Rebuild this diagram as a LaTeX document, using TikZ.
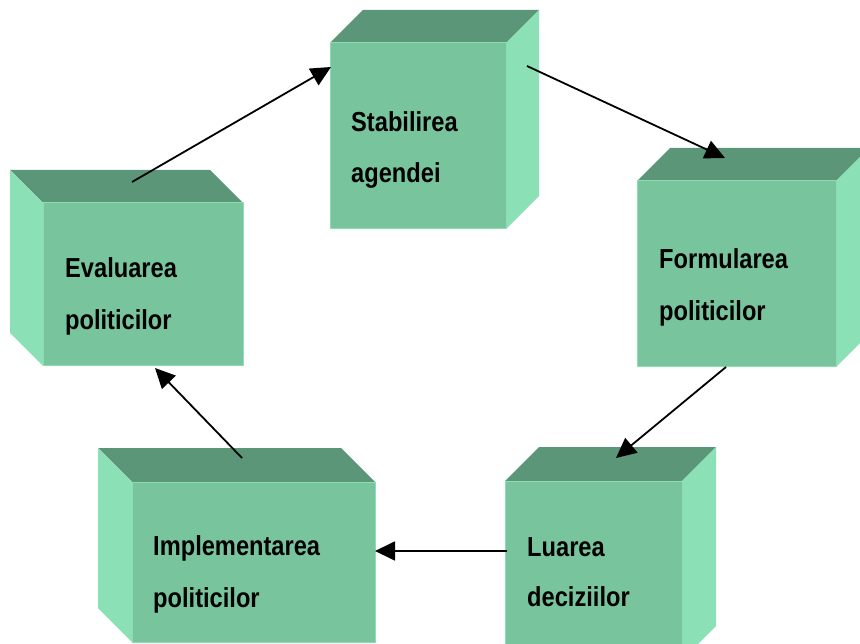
\documentclass[tikz,border=0pt]{standalone}
\usepackage{fontspec}
\newfontfamily\lblfont{Liberation Sans}[FakeStretch=0.86]
\usetikzlibrary{arrows.meta}
\definecolor{topc}{RGB}{91,150,121}
\definecolor{frontc}{RGB}{120,197,157}
\definecolor{sidec}{RGB}{139,225,181}
\definecolor{edgec}{RGB}{140,222,178}
\tikzset{
  lbl/.style={anchor=base west, inner sep=0pt, font=\lblfont\bfseries\fontsize{27.5}{30}\selectfont, text=black},
  face/.style={fill=frontc, draw=edgec, line width=1pt, inner sep=0pt, outer sep=0pt, anchor=north west},
  arr/.style={draw=black, line width=1.8pt, -{Triangle[length=20pt,width=19pt]}}
}
% right-depth cube: x1,y1,x2,y2,name,depth
\newcommand\mycubeR[6]{%
  \fill[topc] (#1,#2) -- (#1+#6,#2-#6) -- (#3+#6,#2-#6) -- (#3,#2) -- cycle;
  \fill[sidec] (#3,#2) -- (#3+#6,#2-#6) -- (#3+#6,#4-#6) -- (#3,#4) -- cycle;
  \node[face, minimum width={(#3-#1)*1pt}, minimum height={(#4-#2)*1pt}] (#5) at (#1,#2) {};
}
% left-depth cube
\newcommand\mycubeL[6]{%
  \fill[topc] (#1,#2) -- (#1-#6,#2-#6) -- (#3-#6,#2-#6) -- (#3,#2) -- cycle;
  \fill[sidec] (#1,#2) -- (#1-#6,#2-#6) -- (#1-#6,#4-#6) -- (#1,#4) -- cycle;
  \node[face, minimum width={(#3-#1)*1pt}, minimum height={(#4-#2)*1pt}] (#5) at (#1,#2) {};
}
\begin{document}
\begin{tikzpicture}[x=1pt,y=-1pt]
\useasboundingbox (0,0) rectangle (860,644);
\clip (0,0) rectangle (860,644);
\fill[white] (0,0) rectangle (860,644);

\mycubeR{330}{43}{506}{229}{stab}{33}
\mycubeR{637}{181}{836}{367}{form}{33}
\mycubeR{505}{481}{682}{660}{luar}{34}
\mycubeL{132}{482}{375}{642}{impl}{34}
\mycubeL{43}{203}{243}{366}{eval}{33}

\node[lbl] (stab1) at (351,132) {Stabilirea};
\node[lbl] (stab2) at (351,183) {agendei};
\node[lbl] (form1) at (659,269) {Formularea};
\node[lbl] (form2) at (659,321) {politicilor};
\node[lbl] (luar1) at (527,556) {Luarea};
\node[lbl] (luar2) at (527,606) {deciziilor};
\node[lbl] (impl1) at (153,555) {Implementarea};
\node[lbl] (impl2) at (153,607) {politicilor};
\node[lbl] (eval1) at (65,278) {Evaluarea};
\node[lbl] (eval2) at (65,330) {politicilor};

\coordinate (a1s) at (132,182);
\coordinate (a1e) at (331,67);
\coordinate (a2s) at (527,66);
\coordinate (a2e) at (725,158);
\coordinate (a3s) at (726,367);
\coordinate (a3e) at (616,458);
\coordinate (a4s) at (507,551);
\coordinate (a4e) at (375,551);
\coordinate (a5s) at (242,458);
\coordinate (a5e) at (155,368);

\draw[arr] (a1s) -- (a1e);
\draw[arr] (a2s) -- (a2e);
\draw[arr] (a3s) -- (a3e);
\draw[arr] (a4s) -- (a4e);
\draw[arr] (a5s) -- (a5e);
\end{tikzpicture}
\end{document}
